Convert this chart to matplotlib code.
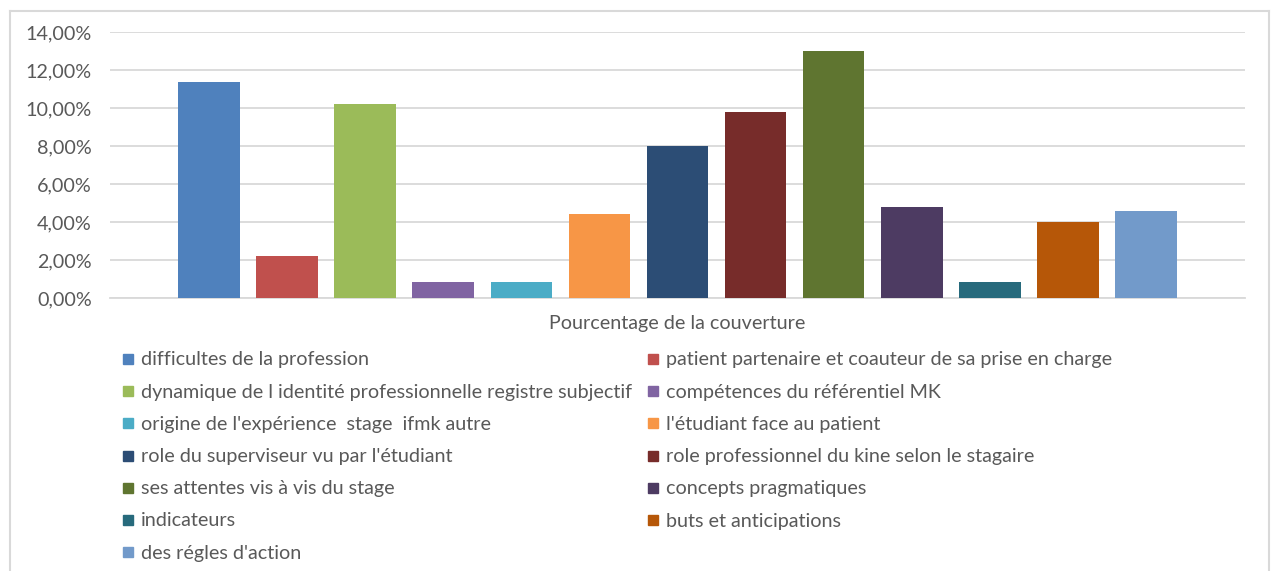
import matplotlib.pyplot as plt
from matplotlib.patches import Rectangle
from matplotlib.ticker import FuncFormatter

categories = [
    "difficultes de la profession",
    "patient partenaire et coauteur de sa prise en charge",
    "dynamique de l identité professionnelle registre subjectif",
    "compétences du référentiel MK",
    "origine de l'expérience  stage  ifmk autre",
    "l'étudiant face au patient",
    "role du superviseur vu par l'étudiant",
    "role professionnel du kine selon le stagaire",
    "ses attentes vis à vis du stage",
    "concepts pragmatiques",
    "indicateurs",
    "buts et anticipations",
    "des régles d'action",
]
values = [0.1138, 0.0221, 0.1021, 0.0085, 0.0085, 0.0442, 0.0802,
          0.0977, 0.1302, 0.0477, 0.0085, 0.0398, 0.0458]
colors = ["#4f81bd", "#c0504d", "#9bbb59", "#8064a2", "#4bacc6", "#f79646",
          "#2c4d75", "#772c2a", "#5f7530", "#4d3b62", "#276a7c", "#b65708",
          "#729aca"]
y_ticks = [0, 0.02, 0.04, 0.06, 0.08, 0.10, 0.12, 0.14]
x_label = "Pourcentage de la couverture"

W, H = 1275, 571
plt.rcParams['font.family'] = ['Lato', 'DejaVu Sans']
text_color = '#595959'
grid_color = '#d9d9d9'
fs = 14.2

fig = plt.figure(figsize=(W / 100, H / 100), dpi=100)

# outer chart border (no bottom edge visible)
fig.add_artist(plt.Line2D([10 / W, 10 / W], [0, 1 - 11 / H], color=grid_color, lw=1.5))
fig.add_artist(plt.Line2D([10 / W, 1269 / W], [1 - 11 / H, 1 - 11 / H], color=grid_color, lw=1.5))
fig.add_artist(plt.Line2D([1269 / W, 1269 / W], [0, 1 - 11 / H], color=grid_color, lw=1.5))

ax = fig.add_axes([110 / W, 1 - 298 / H, (1245 - 110) / W, (298 - 32) / H])
x = list(range(len(values)))
ax.bar(x, values, width=0.79, color=colors, zorder=3)
ax.set_xlim(-1.27, 13.27)
ax.set_ylim(0, 0.14)
ax.set_yticks(y_ticks)
ax.yaxis.set_major_formatter(FuncFormatter(lambda v, p: f"{v * 100:.2f}%".replace('.', ',')))
ax.set_xticks([])
ax.grid(axis='y', color=grid_color, lw=1.3, zorder=0)
for s in ['top', 'right', 'left']:
    ax.spines[s].set_visible(False)
ax.spines['bottom'].set_color(grid_color)
ax.spines['bottom'].set_linewidth(1.3)
ax.tick_params(axis='y', length=0, pad=13, labelsize=fs, labelcolor=text_color)
ax.set_xlabel(x_label, fontsize=fs, color=text_color, labelpad=12)

# legend, filled row by row in two columns
col_x = [123, 648]
row_y0, row_dy = 359, 32.2
for i, (lab, c) in enumerate(zip(categories, colors)):
    r, k = divmod(i, 2)
    yc = row_y0 + r * row_dy
    fig.add_artist(Rectangle(((col_x[k]) / W, 1 - (yc + 5) / H), 10 / W, 10 / H,
                             transform=fig.transFigure, color=c))
    fig.text((col_x[k] + 18) / W, 1 - (yc + 1) / H, lab, fontsize=fs,
             color=text_color, va='center', ha='left')

fig.savefig('out.png', dpi=100)
